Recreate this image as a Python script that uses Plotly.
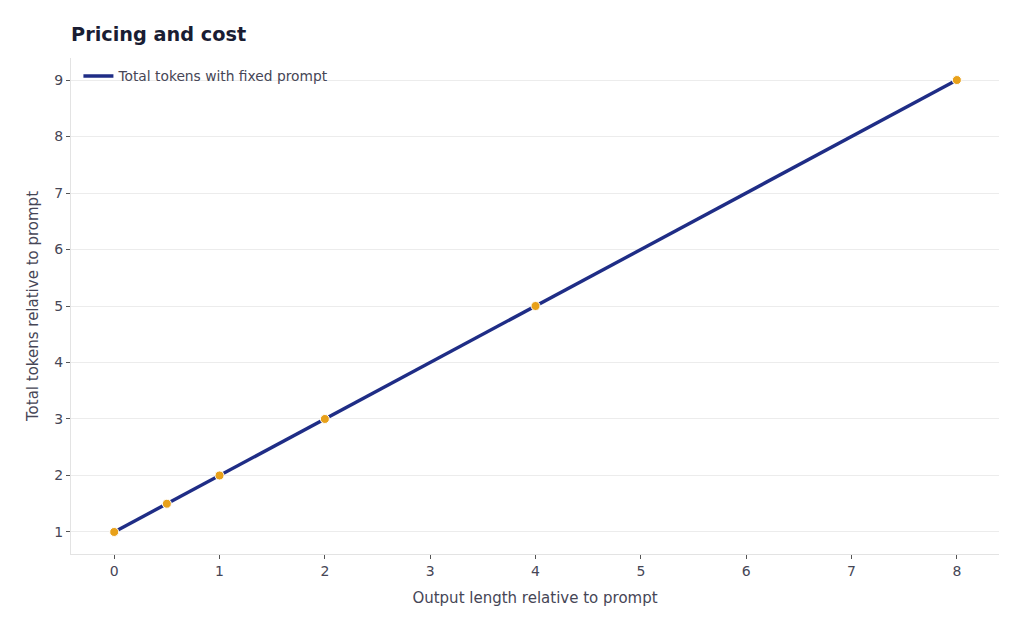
import plotly.graph_objects as go

# output length / prompt length, and total tokens relative to prompt
output_ratio = [0, 0.5, 1, 2, 4, 8]
total_tokens = [1, 1.5, 2, 3, 5, 9]

LINE = "#1f2d86"
DOT = "#e8a11a"
FONT = "DejaVu Sans"

fig = go.Figure()
fig.add_trace(go.Scatter(
    x=output_ratio, y=total_tokens,
    mode="lines",
    name="Total tokens with fixed prompt",
    line=dict(color=LINE, width=3.4),
))
fig.add_trace(go.Scatter(
    x=output_ratio, y=total_tokens,
    mode="markers",
    showlegend=False,
    marker=dict(color=DOT, size=9, line=dict(color="white", width=1)),
))

# page body has an 8px margin, so margins are shifted to compensate
fig.update_layout(
    paper_bgcolor="white", plot_bgcolor="white",
    margin=dict(l=63, r=17, t=50, b=69),
    font=dict(family=FONT, color="#464656", size=14),
    title=dict(text="<b>Pricing and cost</b>", x=0.0625, xanchor="left",
               y=0.958, yanchor="middle",
               font=dict(family=FONT, size=19.3, color="#1a1d33")),
    legend=dict(x=0.008, y=0.995, xanchor="left", yanchor="top",
                bgcolor="rgba(255,255,255,0)", font=dict(size=13.8, color="#464656")),
)
fig.update_xaxes(
    range=[-0.41, 8.4], tickvals=list(range(9)),
    showgrid=False, zeroline=False,
    showline=True, linecolor="#e3e3e3", linewidth=1,
    ticks="outside", ticklen=4, tickcolor="#555",
    title=dict(text="Output length relative to prompt", font=dict(size=15), standoff=14),
)
fig.update_yaxes(
    range=[0.61, 9.39], tickvals=list(range(1, 10)),
    showgrid=True, gridcolor="#ececec", zeroline=False,
    showline=True, linecolor="#e3e3e3", linewidth=1,
    ticks="outside", ticklen=4, tickcolor="#555",
    title=dict(text="Total tokens relative to prompt", font=dict(size=15), standoff=12),
)

fig.write_html("out.html")
